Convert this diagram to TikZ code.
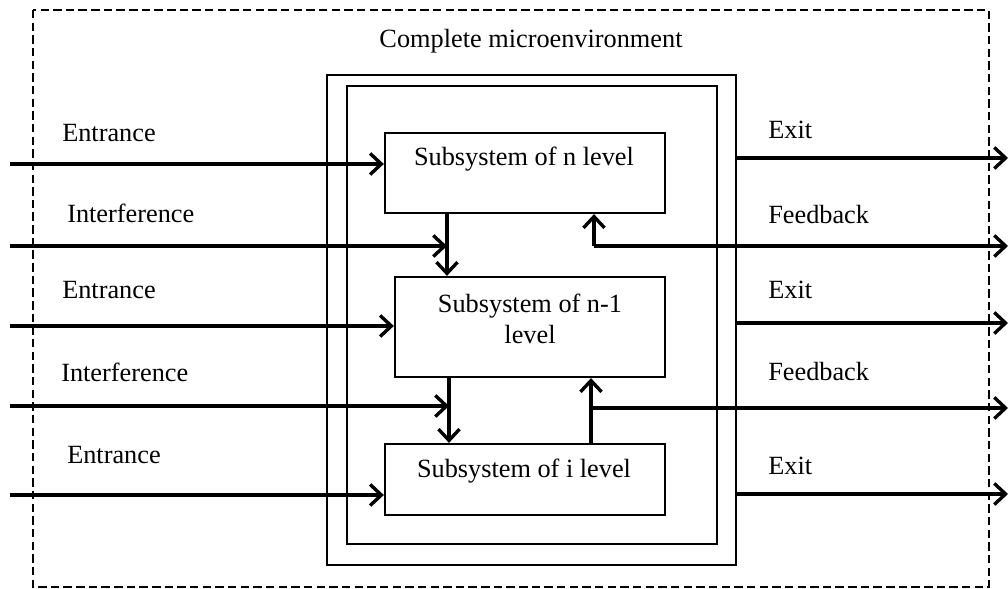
\documentclass[tikz,border=0pt]{standalone}
\usepackage{fontspec}
\setmainfont{Liberation Serif}
\usetikzlibrary{arrows.meta}
\tikzset{mybox/.style={draw,line width=1.6pt,inner sep=0pt},
myarrow/.style={line width=2.6pt,-{Straight Barb[length=8pt,width=15pt,line width=2.4pt]}},
mylabel/.style={anchor=west,inner sep=0pt}}

\begin{document}
\begin{tikzpicture}[x=0.025cm,y=-0.025cm,font=\fontsize{18.7}{22.5}\selectfont]
\useasboundingbox (0,0) rectangle (1008,589);
\draw[line width=1.4pt,dash pattern=on 6pt off 3pt] (33,10) rectangle (989,587);
\node (title) at (531,41) {Complete microenvironment};
\coordinate (outerNW) at (327,75);
\coordinate (outerSE) at (736,565);
\draw[line width=1.8pt] (outerNW) rectangle (outerSE);
\draw[line width=1.8pt] (347,86) rectangle (717,544);
% subsystems
\node[mybox,minimum width=7cm,minimum height=2cm] (n) at (525,173) {};
\node (ntext) at (524,159) {Subsystem of n level};
\node[mybox,minimum width=6.75cm,minimum height=2.5cm] (nm) at (530,327) {};
\node[align=center] (nmtext) at (530,319) {Subsystem of n-1\\level};
\node[mybox,minimum width=7cm,minimum height=1.775cm] (i) at (525,479.5) {};
\node (itext) at (524,471) {Subsystem of i level};
% links between levels
\coordinate (d1) at (447,213);
\coordinate (d2) at (449,377);
\draw[myarrow] (d1) -- (d1 |- nm.north);
\draw[myarrow] (d2) -- (d2 |- i.north);
\coordinate (f1) at (594,246);
\coordinate (f2) at (591,408);
\draw[myarrow] (f1) -- (f1 |- n.south);
\draw[myarrow] (f2 |- i.north) -- (f2 |- nm.south);
% inputs
\coordinate (en1) at (10,164);
\coordinate (in1) at (10,246);
\coordinate (en2) at (10,326);
\coordinate (in2) at (10,406);
\coordinate (en3) at (10,495);
\draw[myarrow] (en1) -- (en1 -| n.west);
\draw[myarrow] (in1) -- (in1 -| d1);
\draw[myarrow] (en2) -- (en2 -| nm.west);
\draw[myarrow] (in2) -- (in2 -| d2);
\draw[myarrow] (en3) -- (en3 -| i.west);
\node[mylabel] (len1) at (62,133) {Entrance};
\node[mylabel] (lin1) at (67,213) {Interference};
\node[mylabel] (len2) at (62,290) {Entrance};
\node[mylabel] (lin2) at (61,372) {Interference};
\node[mylabel] (len3) at (67,455) {Entrance};
% outputs
\coordinate (ex1) at (1008,158);
\coordinate (fb1) at (1008,246);
\coordinate (ex2) at (1008,323);
\coordinate (fb2) at (1008,408);
\coordinate (ex3) at (1008,494);
\draw[myarrow] (outerSE |- ex1) -- (ex1);
\draw[myarrow] (f1) -- (fb1);
\draw[myarrow] (outerSE |- ex2) -- (ex2);
\draw[myarrow] (f2) -- (fb2);
\draw[myarrow,line width=2.3pt] (outerSE |- ex3) -- (ex3);
\node[mylabel] (lex1) at (768,130) {Exit};
\node[mylabel] (lfb1) at (768,215) {Feedback};
\node[mylabel] (lex2) at (768,290) {Exit};
\node[mylabel] (lfb2) at (768,372) {Feedback};
\node[mylabel] (lex3) at (768,466) {Exit};
\end{tikzpicture}
\end{document}
